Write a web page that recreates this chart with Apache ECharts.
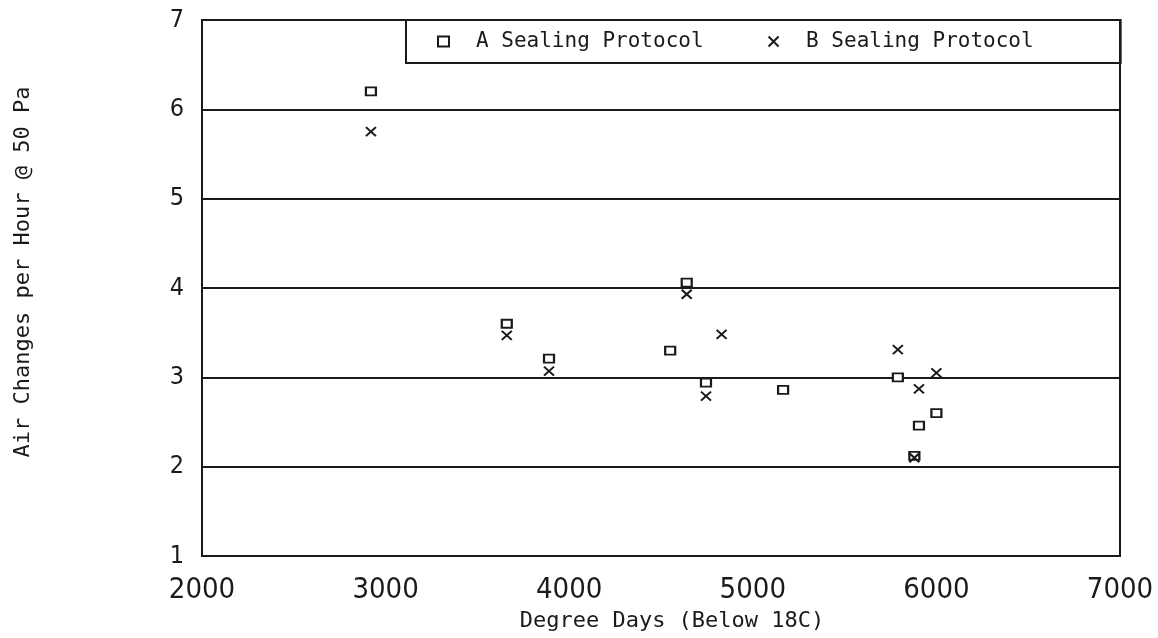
<!DOCTYPE html>
<html>
<head>
<meta charset="utf-8">
<script src="https://cdn.jsdelivr.net/npm/echarts@6/dist/echarts.min.js"></script>
<style>
html,body{margin:0;padding:0;background:#fff;}
#chart{width:1158px;height:638px;}
</style>
</head>
<body>
<div id="chart"></div>
<script>
const xTicks = [2000, 3000, 4000, 5000, 6000, 7000];
const yTicks = [1, 2, 3, 4, 5, 6, 7];
const seriesNames = ['A Sealing Protocol', 'B Sealing Protocol'];
const aDegreeDays = [2920, 3660, 3890, 4550, 4640, 4745, 5165, 5790, 5880, 5905, 6000];
const aACH        = [6.20, 3.60, 3.21, 3.30, 4.06, 2.94, 2.86, 3.00, 2.12, 2.46, 2.60];
const bDegreeDays = [2920, 3660, 3890, 4640, 4745, 4830, 5790, 5880, 5905, 6000];
const bACH        = [5.75, 3.47, 3.07, 3.93, 2.79, 3.48, 3.31, 2.10, 2.87, 3.05];
const xTitle = 'Degree Days (Below 18C)';
const yTitle = 'Air Changes per Hour @ 50 Pa';

const ink = '#1a1a1a';
const mono = '"DejaVu Sans Mono", "Liberation Mono", monospace';
const narrow = '"Liberation Sans Narrow", "DejaVu Sans Condensed", "Liberation Sans", sans-serif';

const chart = echarts.init(document.getElementById('chart'));
chart.setOption({
  animation: false,
  backgroundColor: '#fff',
  grid: {left: 202, top: 20, right: 38, bottom: 82, show: true, borderColor: ink, borderWidth: 2, backgroundColor: 'transparent'},
  legend: {
    data: seriesNames,
    left: 406, top: 20,
    padding: [11, 87, 11, 31],
    itemGap: 64,
    itemWidth: 11, itemHeight: 10,
    borderColor: ink, borderWidth: 2,
    textStyle: {fontFamily: mono, fontSize: 21, color: ink, padding: [0, 0, 0, 22]}
  },
  xAxis: {
    type: 'value', min: xTicks[0], max: xTicks[xTicks.length - 1], interval: 1000,
    axisLine: {show: false}, axisTick: {show: false}, splitLine: {show: false},
    axisLabel: {fontFamily: narrow, fontSize: 29, color: ink, margin: 20, formatter: v => String(v)},
    name: xTitle, nameLocation: 'middle', nameGap: 54,
    nameTextStyle: {fontFamily: mono, fontSize: 22, color: ink, padding: [0, 0, 0, 22]}
  },
  yAxis: {
    type: 'value', min: yTicks[0], max: yTicks[yTicks.length - 1], interval: 1,
    axisLine: {show: false}, axisTick: {show: false},
    splitLine: {show: true, lineStyle: {color: ink, width: 2}},
    axisLabel: {fontFamily: narrow, fontSize: 25, color: ink, margin: 18, formatter: v => String(v)},
    name: yTitle, nameLocation: 'middle', nameGap: 168,
    nameTextStyle: {fontFamily: mono, fontSize: 22, color: ink, padding: [0, 0, 0, 32]}
  },
  series: [
    {
      name: seriesNames[0], type: 'scatter',
      data: aDegreeDays.map((x, i) => [x, aACH[i]]),
      symbol: 'rect', symbolSize: [10, 8],
      itemStyle: {color: '#fff', borderColor: ink, borderWidth: 2, opacity: 1},
      z: 3
    },
    {
      name: seriesNames[1], type: 'scatter',
      data: bDegreeDays.map((x, i) => [x, bACH[i]]),
      symbol: 'path://M0,0L10,10M10,0L0,10', symbolSize: [10, 9],
      itemStyle: {color: 'transparent', borderColor: ink, borderWidth: 2, opacity: 1},
      z: 4
    }
  ]
});
</script>
</body>
</html>
